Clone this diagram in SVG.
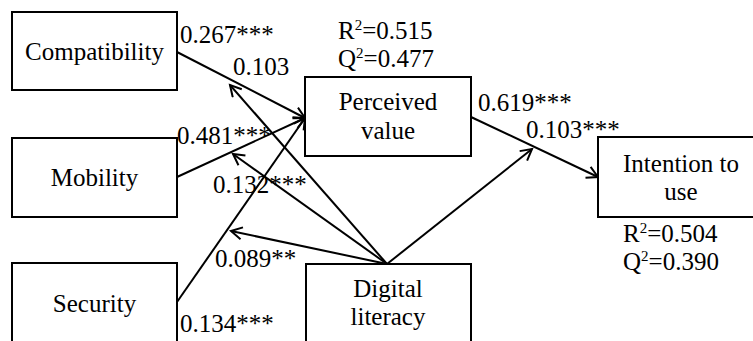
<svg xmlns="http://www.w3.org/2000/svg" width="753" height="341" viewBox="0 0 753 341">
  <style>
    .box { fill: #ffffff; stroke: #000000; stroke-width: 2; }
    text { font-family: "Liberation Serif", "Times New Roman", serif; font-size: 25px; fill: #000000; }
    .mid { text-anchor: middle; }
    .sup { font-size: 15px; }
    .edge { fill: none; stroke: #000000; stroke-width: 2; marker-end: url(#arrow); }
  </style>
  <defs>
    <marker id="arrow" markerUnits="userSpaceOnUse" markerWidth="16" markerHeight="16" refX="12" refY="7" orient="auto">
      <path d="M1,1 L12,7 L1,13" fill="none" stroke="#000000" stroke-width="2"/>
    </marker>
  </defs>

  <rect width="753" height="341" fill="#ffffff"/>

  <!-- connectors -->
  <g id="connectors">
    <line class="edge" x1="177" y1="52" x2="305" y2="118"/>
    <line class="edge" x1="177" y1="177" x2="305" y2="118"/>
    <line class="edge" x1="177" y1="302" x2="305" y2="118"/>
    <line class="edge" x1="471" y1="117" x2="598" y2="177"/>
    <line class="edge" x1="387" y1="264" x2="532" y2="149"/>
    <line class="edge" x1="387" y1="264" x2="230" y2="85"/>
    <line class="edge" x1="387" y1="264" x2="233" y2="154"/>
    <line class="edge" x1="387" y1="264" x2="231" y2="231"/>
  </g>

  <!-- nodes -->
  <g id="compatibility">
    <rect class="box" x="12" y="12" width="165" height="78"/>
    <text class="mid" x="94.5" y="60">Compatibility</text>
  </g>
  <g id="mobility">
    <rect class="box" x="12" y="138" width="165" height="79"/>
    <text class="mid" x="94.5" y="186">Mobility</text>
  </g>
  <g id="security">
    <rect class="box" x="12" y="263" width="165" height="100"/>
    <text class="mid" x="94.5" y="312">Security</text>
  </g>
  <g id="perceived-value">
    <rect class="box" x="305" y="77" width="166" height="79"/>
    <text class="mid" x="388" y="110">Perceived</text>
    <text class="mid" x="388" y="139">value</text>
  </g>
  <g id="digital-literacy">
    <rect class="box" x="306" y="264" width="165" height="100"/>
    <text class="mid" x="388" y="297">Digital</text>
    <text class="mid" x="388" y="325">literacy</text>
  </g>
  <g id="intention-to-use">
    <rect class="box" x="598" y="137" width="170" height="80"/>
    <text class="mid" x="681" y="172">Intention to</text>
    <text class="mid" x="681" y="200">use</text>
  </g>

  <!-- fit statistics -->
  <g id="stats">
    <text x="338" y="39">R<tspan class="sup" dy="-9">2</tspan><tspan dy="9">=0.515</tspan></text>
    <text x="338" y="67">Q<tspan class="sup" dy="-9">2</tspan><tspan dy="9">=0.477</tspan></text>
    <text x="623" y="242">R<tspan class="sup" dy="-9">2</tspan><tspan dy="9">=0.504</tspan></text>
    <text x="623" y="270">Q<tspan class="sup" dy="-9">2</tspan><tspan dy="9">=0.390</tspan></text>
  </g>

  <!-- path coefficients -->
  <g id="coefficients">
    <text x="180" y="43">0.267***</text>
    <text x="233" y="75">0.103</text>
    <text x="177" y="144">0.481***</text>
    <text x="213" y="193">0.132***</text>
    <text x="215" y="267">0.089**</text>
    <text x="180" y="332">0.134***</text>
    <text x="478" y="111">0.619***</text>
    <text x="526" y="138">0.103***</text>
  </g>
</svg>
